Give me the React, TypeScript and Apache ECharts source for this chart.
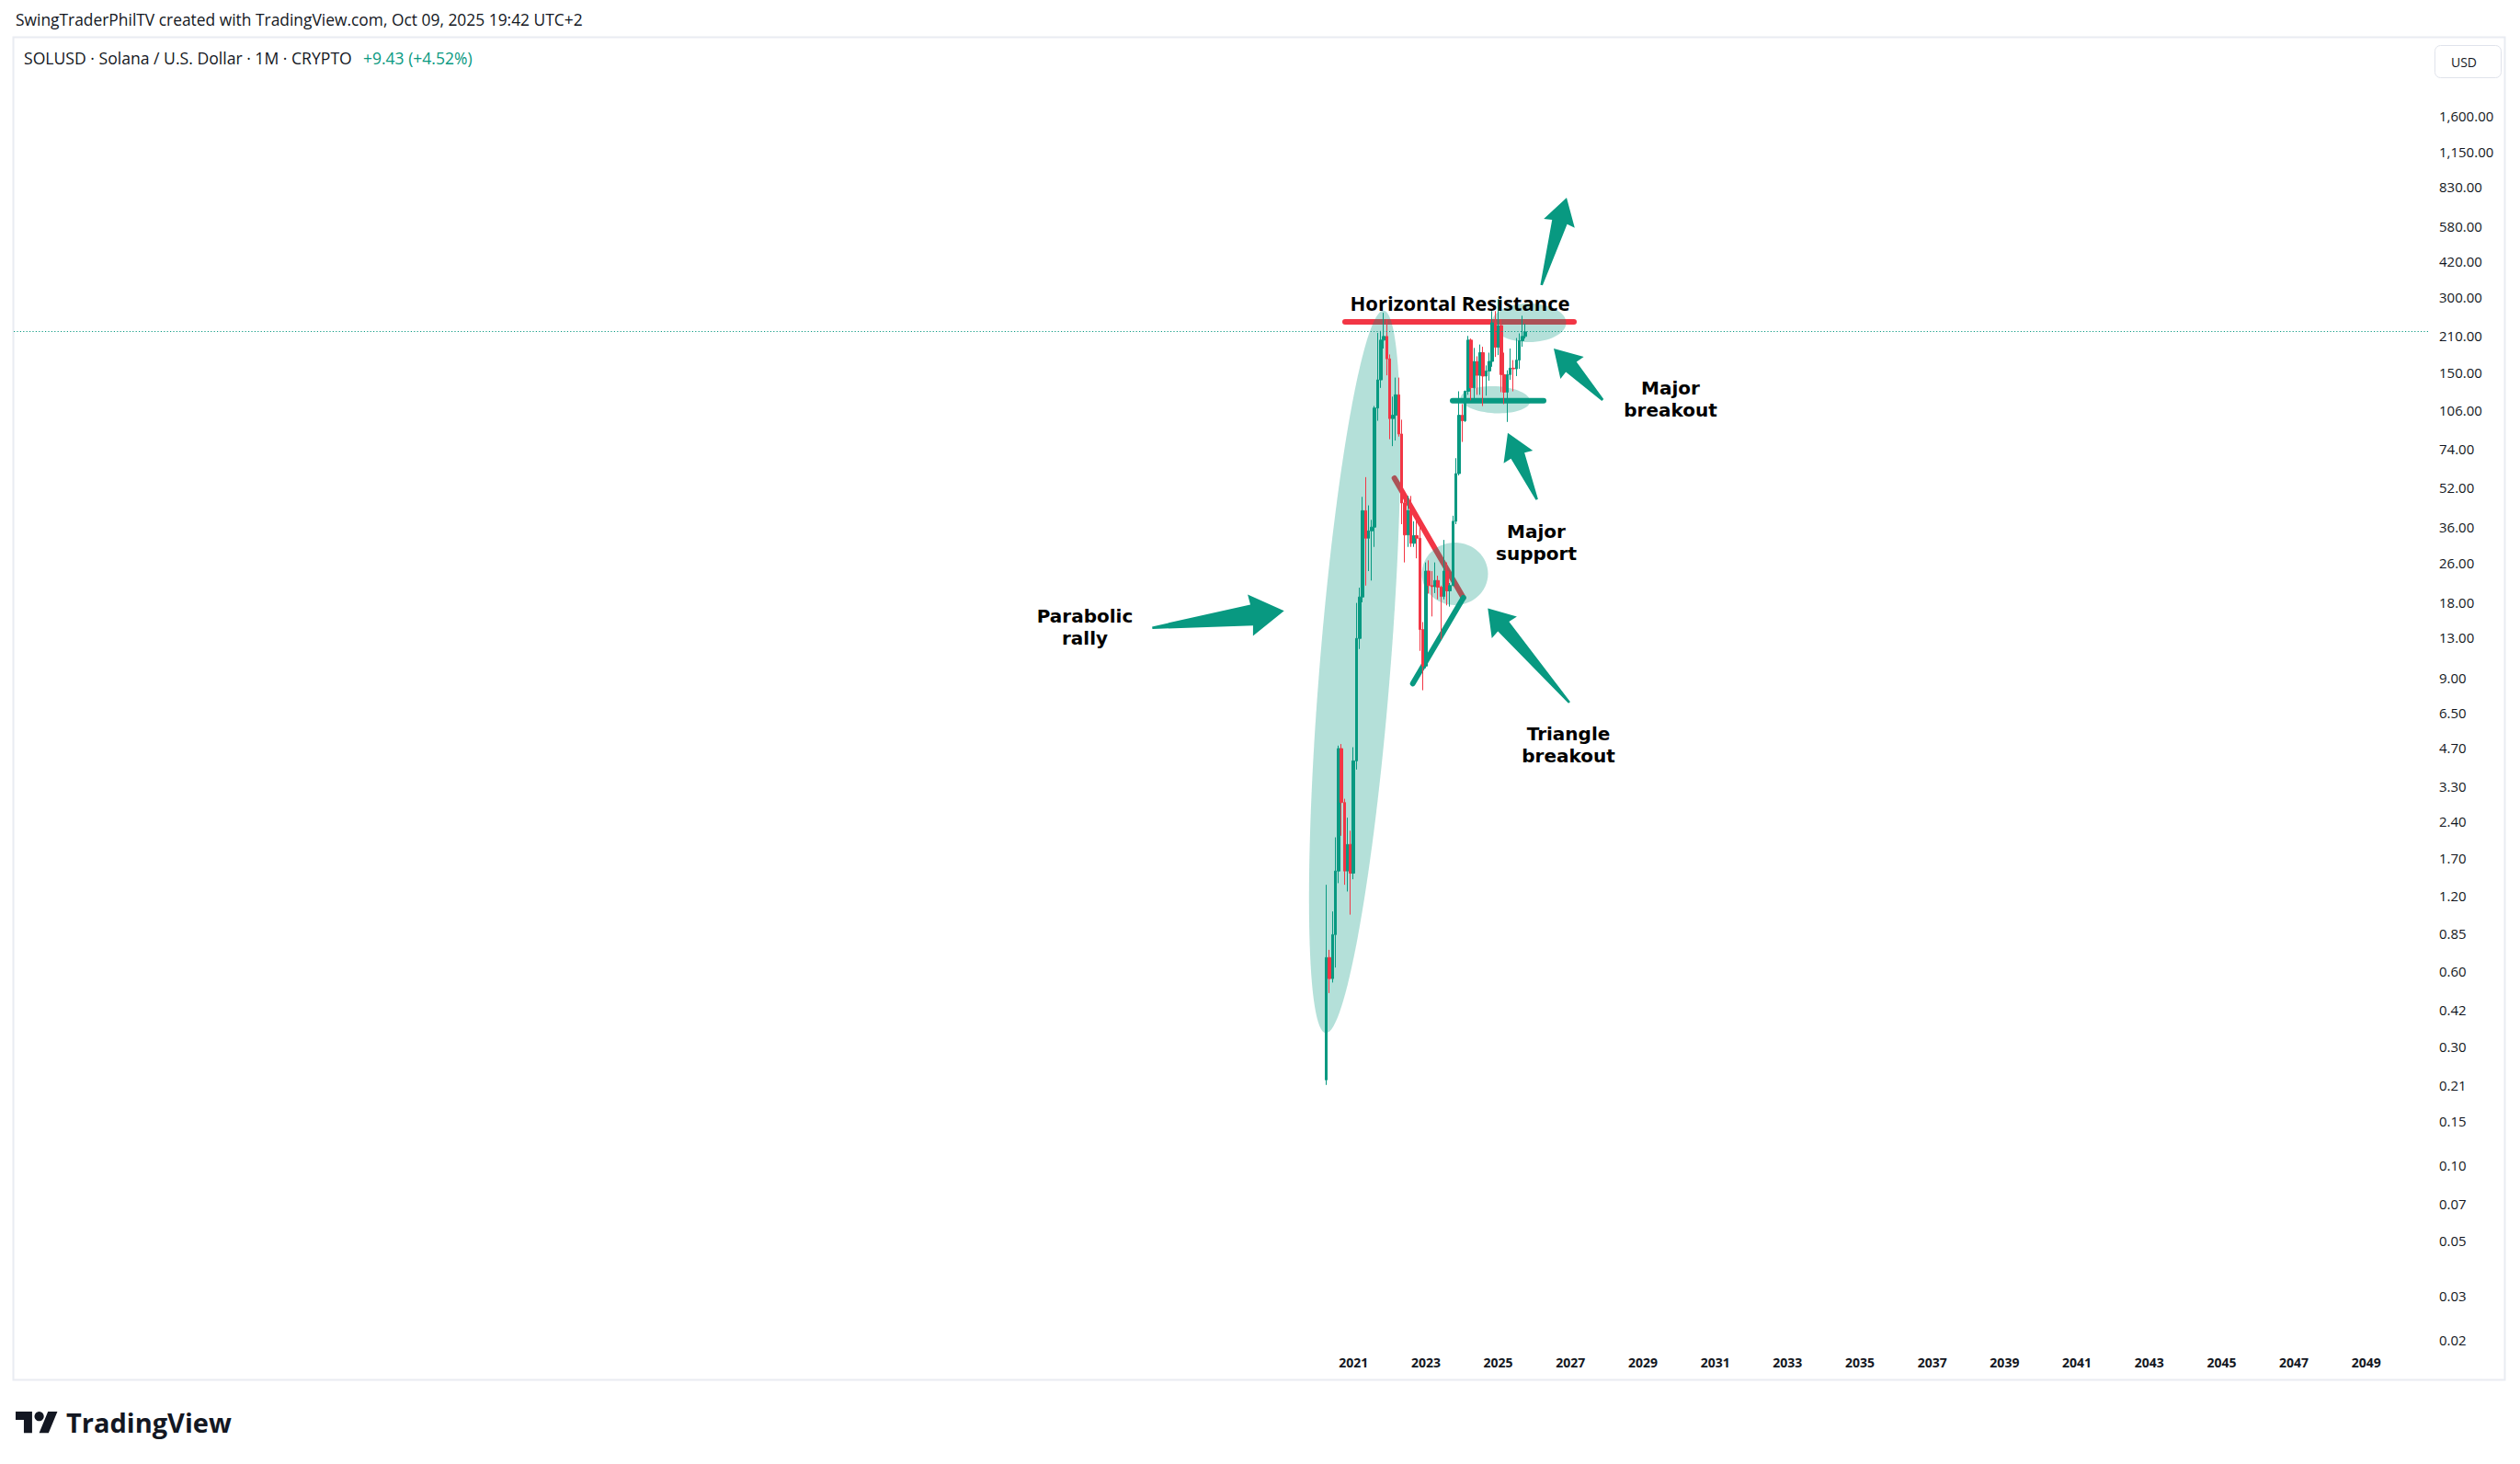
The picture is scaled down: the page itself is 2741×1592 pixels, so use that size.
import React, { useEffect, useRef } from "react";
import * as echarts from "echarts";

// ---------- DATA ----------
const startMonth = "2020-04"; // first monthly candle
const opens = [
  0.22, 0.68, 0.56, 0.84, 1.51, 4.67, 2.84, 1.51, 1.93,
  1.48, 4.17, 12.9, 18.9, 41.9, 32.5, 34.8, 36.0, 108, 140, 202, 209,
  170, 98, 101, 122, 85, 45, 33.5, 42, 31, 33.3, 32.5, 14,
  10, 24, 21, 20.8, 22, 20.7, 19, 24, 20, 21, 38, 59,
  101, 96, 126, 202, 130, 166, 146, 180, 145, 152, 166, 237,
  189, 231, 147, 125, 147, 156, 155, 168, 201, 209,
];
const highs = [
  1.33, 0.73, 1.04, 2.06, 4.8, 4.87, 2.94, 2.47, 2.19,
  4.73, 17.9, 20.6, 47.6, 57.1, 44.0, 38.5, 110, 216, 220, 260, 245,
  177, 120, 143, 143, 97, 48, 48, 48, 38, 39, 39, 15,
  26, 26.5, 24, 26, 23, 21, 32, 26, 21.5, 40, 68, 126,
  112, 127, 210, 205, 188, 174, 194, 190, 160, 180, 264, 264,
  295, 245, 180, 153, 187, 168, 206, 215, 253, 235,
];
const lows = [
  0.21, 0.49, 0.54, 0.62, 1.35, 2.09, 1.33, 1.25, 1.01,
  1.4, 3.85, 11.7, 18.0, 21.0, 24.0, 22.0, 30.0, 96, 130, 187, 146,
  81, 76, 80, 83, 37, 26, 30, 30, 30, 27, 11.5, 8.0,
  9.8, 19.5, 15.8, 19.6, 18.5, 12.8, 18.5, 17.5, 17.3, 21, 37, 58,
  79, 95, 122, 116, 117, 122, 122, 110, 121, 139, 158, 173,
  176, 125, 112, 95, 140, 126, 145, 155, 190, 205,
];
const closes = [
  0.68, 0.56, 0.84, 1.51, 4.67, 2.84, 1.51, 1.93, 1.48,
  4.17, 12.9, 18.9, 41.9, 32.5, 34.8, 36.0, 108, 140, 202, 209, 170,
  98, 101, 122, 85, 45, 33.5, 42, 31, 33.3, 32.5, 14, 10,
  24, 21, 20.8, 22, 20.7, 19, 24, 20, 21, 38, 59, 101,
  96, 126, 202, 130, 166, 146, 180, 145, 152, 166, 237, 189,
  231, 147, 125, 147, 156, 155, 168, 201, 209, 218,
];
const yTickValues = [
  1600, 1150, 830, 580, 420, 300, 210, 150, 106, 74, 52, 36, 26, 18, 13, 9,
  6.5, 4.7, 3.3, 2.4, 1.7, 1.2, 0.85, 0.6, 0.42, 0.3, 0.21, 0.15, 0.1, 0.07,
  0.05, 0.03, 0.02,
];
const axisFirstYear = 1984;
const axisMonthCount = 801;
const yearLabelFrom = 2021;
const yearLabelTo = 2049;
const yLogMin = -1.7283;
const yLogMax = 3.513;

// ---------- HELPERS ----------
const pad = (n: number) => (n < 10 ? "0" + n : "" + n);
const categories: string[] = [];
for (let i = 0; i < axisMonthCount; i++) {
  categories.push(`${axisFirstYear + Math.floor(i / 12)}-${pad((i % 12) + 1)}`);
}
const startIdx = categories.indexOf(startMonth);
const candleData: any[] = categories.map(() => ["-", "-", "-", "-"]);
opens.forEach((o, k) => {
  candleData[startIdx + k] = [
    Math.log10(o),
    Math.log10(closes[k]),
    Math.log10(lows[k]),
    Math.log10(highs[k]),
  ];
});
const lastPrice = closes[closes.length - 1];

function fmtPrice(v: number) {
  return v.toLocaleString("en-US", { minimumFractionDigits: 2, maximumFractionDigits: 2 });
}

function arrowPoints(tail: number[], tip: number[], h: number, w: number, s: number, t = 1.3) {
  const dx = tip[0] - tail[0];
  const dy = tip[1] - tail[1];
  const L = Math.hypot(dx, dy);
  const ux = dx / L, uy = dy / L;
  const nx = -uy, ny = ux;
  const bx = tip[0] - ux * h, by = tip[1] - uy * h;
  const qx = bx + ux * 1.5, qy = by + uy * 1.5;
  return [
    [tail[0] + nx * t, tail[1] + ny * t],
    [qx + nx * s, qy + ny * s],
    [bx + nx * w, by + ny * w],
    [tip[0], tip[1]],
    [bx - nx * w, by - ny * w],
    [qx - nx * s, qy - ny * s],
    [tail[0] - nx * t, tail[1] - ny * t],
  ];
}

const GREEN = "#089981";
const RED = "#f23645";
const FILL = "rgba(8,153,129,0.3)";
const FONT_FAMILY = '"Open Sans", "Noto Sans", sans-serif';
const NOTE_FONT = 'bold 20px "DejaVu Sans", "Open Sans", sans-serif';

echarts.graphic.registerShape(
  "tvlogo",
  echarts.graphic.extendPath("M14 22H7V11H0V4h14v18zM28 22h-8l7.5-18h8L28 22z", {})
);

function label(text: string, x: number, y: number, font = NOTE_FONT) {
  return {
    type: "text",
    x,
    y,
    z: 10,
    style: {
      text,
      fill: "#000000",
      font,
      textAlign: "center",
      textVerticalAlign: "middle",
      textLineHeight: 24,
      lineHeight: 24,
    },
  };
}

export default function App() {
  const ref = useRef<HTMLDivElement>(null);
  useEffect(() => {
    if (!ref.current) return;
    const chart = echarts.init(ref.current, null, { renderer: "svg" });

    const lines = [
      { p: [1463, 350, 1712, 350], c: RED },
      { p: [1580, 435.7, 1679, 435.7], c: GREEN },
      { p: [1516.7, 520, 1591.7, 650], c: RED },
      { p: [1536.7, 743.3, 1591.7, 650], c: GREEN },
    ].map((l) => ({
      type: "line",
      z: 0,
      shape: { x1: l.p[0], y1: l.p[1], x2: l.p[2], y2: l.p[3] },
      style: { stroke: l.c, lineWidth: 6, lineCap: "round" },
    }));

    const ellipses = [
      { cx: 1473.5, cy: 730.5, rx: 38.5, ry: 394, r: -0.08 },
      { cx: 1663, cy: 351, rx: 40.5, ry: 21, r: 0 },
      { cx: 1626.5, cy: 434.7, rx: 37.8, ry: 14.7, r: -0.05 },
      { cx: 1582.5, cy: 624, rx: 36, ry: 34, r: 0 },
    ].map((e) => ({
      type: "ellipse",
      z: 1,
      x: e.cx,
      y: e.cy,
      rotation: e.r,
      shape: { cx: 0, cy: 0, rx: e.rx, ry: e.ry },
      style: { fill: FILL },
    }));

    const arrows = [
      { tail: [1676.7, 310], tip: [1704, 215], h: 29, w: 17.5, s: 8.5 },
      { tail: [1743.3, 435], tip: [1690, 379], h: 29, w: 17.5, s: 8 },
      { tail: [1671.7, 543.3], tip: [1640, 470.7], h: 28.5, w: 17.3, s: 8 },
      { tail: [1707, 764], tip: [1618.3, 661.5], h: 27.5, w: 18, s: 8 },
      { tail: [1253.3, 682.7], tip: [1396.7, 664.3], h: 37, w: 22.7, s: 11.5 },
    ].map((a) => ({
      type: "polygon",
      z: 10,
      shape: { points: arrowPoints(a.tail, a.tip, a.h, a.w, a.s) },
      style: { fill: GREEN },
    }));

    const texts = [
      label("Horizontal Resistance", 1588, 329, `bold 22px ${FONT_FAMILY}`),
      label("Major\nbreakout", 1817, 433.5),
      label("Major\nsupport", 1671, 589.5),
      label("Triangle\nbreakout", 1706, 810),
      label("Parabolic\nrally", 1180, 682),
    ];

    const chrome = [
      {
        type: "rect",
        z: 0,
        shape: { x: 14.5, y: 40.5, width: 2710, height: 1460 },
        style: { fill: "none", stroke: "#e9ecf2", lineWidth: 2 },
      },
      {
        type: "text",
        x: 17,
        y: 21,
        z: 10,
        style: {
          text: "SwingTraderPhilTV created with TradingView.com, Oct 09, 2025 19:42 UTC+2",
          fill: "#131722",
          font: `17.4px ${FONT_FAMILY}`,
          textAlign: "left",
          textVerticalAlign: "middle",
        },
      },
      {
        type: "text",
        x: 26,
        y: 63,
        z: 10,
        style: {
          text: "SOLUSD · Solana / U.S. Dollar · 1M · CRYPTO",
          fill: "#131722",
          font: `17.6px ${FONT_FAMILY}`,
          textAlign: "left",
          textVerticalAlign: "middle",
        },
      },
      {
        type: "text",
        x: 395,
        y: 63,
        z: 10,
        style: {
          text: "+9.43 (+4.52%)",
          fill: GREEN,
          font: `17.5px ${FONT_FAMILY}`,
          textAlign: "left",
          textVerticalAlign: "middle",
        },
      },
      {
        type: "rect",
        z: 10,
        shape: { x: 2648.5, y: 49.5, width: 72, height: 35, r: 6 },
        style: { fill: "#ffffff", stroke: "#e0e3eb", lineWidth: 1 },
      },
      {
        type: "text",
        x: 2680,
        y: 67,
        z: 11,
        style: {
          text: "USD",
          fill: "#131722",
          font: `14px ${FONT_FAMILY}`,
          textAlign: "center",
          textVerticalAlign: "middle",
        },
      },
      {
        type: "tvlogo",
        x: 17,
        y: 1530,
        scaleX: 1.28,
        scaleY: 1.28,
        z: 10,
        style: { fill: "#131722" },
      },
      {
        type: "circle",
        z: 10,
        shape: { cx: 17 + 20 * 1.28, cy: 1530 + 8 * 1.28, r: 4 * 1.28 },
        style: { fill: "#131722" },
      },
      {
        type: "text",
        x: 72,
        y: 1546,
        z: 10,
        style: {
          text: "TradingView",
          fill: "#131722",
          font: `bold 29px ${FONT_FAMILY}`,
          textAlign: "left",
          textVerticalAlign: "middle",
        },
      },
    ];

    chart.setOption({
      animation: false,
      backgroundColor: "#ffffff",
      grid: {
        left: 15,
        top: 42,
        width: 2626,
        height: 1423,
        containLabel: false,
        outerBoundsMode: "none",
      },
      xAxis: {
        type: "category",
        data: categories,
        boundaryGap: true,
        axisLine: { show: false },
        axisTick: { show: false },
        splitLine: { show: false },
        axisLabel: {
          interval: (_i: number, v: string) => {
            const [yy, mm] = v.split("-");
            const y = +yy;
            return mm === "01" && y >= yearLabelFrom && y <= yearLabelTo && (y - yearLabelFrom) % 2 === 0;
          },
          formatter: (v: string) => v.slice(0, 4),
          color: "#131722",
          fontFamily: FONT_FAMILY,
          fontSize: 14,
          fontWeight: "bold",
          margin: 9,
        },
      },
      yAxis: {
        type: "value",
        position: "right",
        min: yLogMin,
        max: yLogMax,
        axisLine: { show: false },
        axisTick: { show: false },
        splitLine: { show: false },
        axisLabel: {
          customValues: yTickValues.map((v) => Math.log10(v)),
          formatter: (v: number) => {
            const p = Math.pow(10, v);
            let best = yTickValues[0];
            yTickValues.forEach((t) => {
              if (Math.abs(Math.log10(t) - v) < Math.abs(Math.log10(best) - v)) best = t;
            });
            return fmtPrice(Math.abs(Math.log10(best) - v) < 0.01 ? best : p);
          },
          color: "#131722",
          fontFamily: FONT_FAMILY,
          fontSize: 15,
          margin: 12,
        },
      },
      series: [
        {
          type: "candlestick",
          z: 2,
          large: false,
          progressive: 0,
          data: candleData,
          barWidth: 3,
          itemStyle: {
            color: GREEN,
            color0: RED,
            borderColor: GREEN,
            borderColor0: RED,
            borderWidth: 1,
          },
          markLine: {
            silent: true,
            symbol: "none",
            label: { show: false },
            lineStyle: { color: GREEN, width: 1, type: [1.2, 2.2] },
            data: [{ yAxis: Math.log10(lastPrice) }],
          },
        },
      ],
      graphic: { elements: [...chrome, ...lines, ...ellipses, ...arrows, ...texts] },
    });
    return () => chart.dispose();
  }, []);
  return (
    <div
      ref={ref}
      style={{ position: "fixed", left: 0, top: 0, width: 2741, height: 1592, background: "#fff" }}
    />
  );
}
